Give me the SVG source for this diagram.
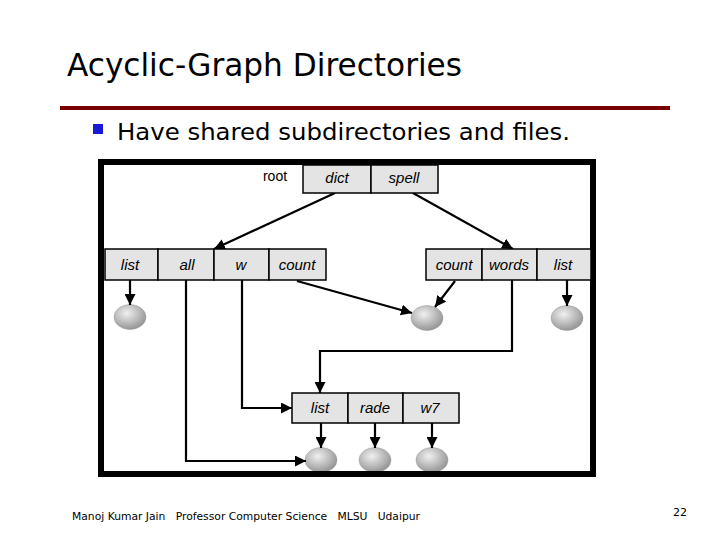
<svg xmlns="http://www.w3.org/2000/svg" width="720" height="540" viewBox="0 0 720 540">
<style>
.title{font-family:"DejaVu Sans",sans-serif;font-size:32px;fill:#000}
.bullet{font-family:"DejaVu Sans",sans-serif;font-size:23px;fill:#000}
.foot{font-family:"DejaVu Sans",sans-serif;font-size:11px;fill:#000;white-space:pre}
.box{fill:#e4e4e4;stroke:#000;stroke-width:1.5}
.lbl{font-family:"Liberation Sans",Arial,sans-serif;font-size:15px;font-style:italic;fill:#000;text-anchor:middle}
.plain{font-family:"Liberation Sans",Arial,sans-serif;font-size:14px;fill:#000;text-anchor:middle}
.edge{fill:none;stroke:#000;stroke-width:2.2}
.file{fill:url(#g);stroke:#999;stroke-width:0.5}
</style>
<defs>
<radialGradient id="g" cx="0.4" cy="0.35" r="0.7">
<stop offset="0" stop-color="#f0f0f0"/>
<stop offset="1" stop-color="#8f8f8f"/>
</radialGradient>
<marker id="ah" viewBox="0 0 10 10" refX="10" refY="5" markerWidth="5" markerHeight="5" orient="auto" markerUnits="strokeWidth">
<path d="M0,0 L10,5 L0,10 z" fill="#000"/>
</marker>
</defs>
<rect width="720" height="540" fill="#fff"/>
<text class="title" x="67" y="76" textLength="395" lengthAdjust="spacingAndGlyphs">Acyclic-Graph Directories</text>
<rect x="60" y="106" width="610" height="4" fill="#780000"/>
<rect x="93" y="124" width="10" height="10" fill="#1a1ad6"/>
<text class="bullet" x="117" y="140" textLength="453" lengthAdjust="spacingAndGlyphs">Have shared subdirectories and files.</text>

<rect x="101" y="162" width="492" height="312" fill="#fff" stroke="#000" stroke-width="6"/>

<g id="files">
<ellipse class="file" cx="130" cy="317" rx="16" ry="12.5"/>
<ellipse class="file" cx="427" cy="318" rx="16" ry="12.5"/>
<ellipse class="file" cx="567" cy="318" rx="16" ry="12.5"/>
<ellipse class="file" cx="321" cy="460" rx="16" ry="12.5"/>
<ellipse class="file" cx="375" cy="460" rx="16" ry="12.5"/>
<ellipse class="file" cx="432" cy="460" rx="16" ry="12.5"/>
</g>
<rect x="104" y="471" width="486" height="6" fill="#000"/>

<g id="connectors">
<path class="edge" marker-end="url(#ah)" d="M335,193 L214,249"/>
<path class="edge" marker-end="url(#ah)" d="M413,193 L513,249"/>
<path class="edge" marker-end="url(#ah)" d="M130,280 L130,305"/>
<path class="edge" marker-end="url(#ah)" d="M186,280 L186,461 L306,461"/>
<path class="edge" marker-end="url(#ah)" d="M242,280 L242,408 L292,408"/>
<path class="edge" marker-end="url(#ah)" d="M297,281 L412,313"/>
<path class="edge" marker-end="url(#ah)" d="M455,281 L435,307"/>
<path class="edge" marker-end="url(#ah)" d="M512,280 L512,351 L320,351 L320,393"/>
<path class="edge" marker-end="url(#ah)" d="M567,280 L567,306"/>
<path class="edge" marker-end="url(#ah)" d="M321,423 L321,448"/>
<path class="edge" marker-end="url(#ah)" d="M375,423 L375,448"/>
<path class="edge" marker-end="url(#ah)" d="M432,423 L432,448"/>
</g>

<g id="root">
<text class="plain" x="275" y="181">root</text>
<rect class="box" x="303" y="165" width="68" height="28"/>
<text class="lbl" x="337" y="183">dict</text>
<rect class="box" x="371" y="165" width="67" height="28"/>
<text class="lbl" x="404" y="183">spell</text>
</g>

<g id="dictdir">
<rect class="box" x="105" y="249" width="53" height="31"/>
<text class="lbl" x="130" y="270">list</text>
<rect class="box" x="158" y="249" width="56" height="31"/>
<text class="lbl" x="187" y="270">all</text>
<rect class="box" x="214" y="249" width="55" height="31"/>
<text class="lbl" x="241" y="270">w</text>
<rect class="box" x="269" y="249" width="57" height="31"/>
<text class="lbl" x="297" y="270">count</text>
</g>

<g id="spelldir">
<rect class="box" x="426" y="249" width="56" height="31"/>
<text class="lbl" x="454" y="270">count</text>
<rect class="box" x="482" y="249" width="55" height="31"/>
<text class="lbl" x="509" y="270">words</text>
<rect class="box" x="537" y="249" width="54" height="31"/>
<text class="lbl" x="563" y="270">list</text>
</g>

<g id="listdir">
<rect class="box" x="292" y="393" width="56" height="30"/>
<text class="lbl" x="320" y="413">list</text>
<rect class="box" x="348" y="393" width="55" height="30"/>
<text class="lbl" x="375" y="413">rade</text>
<rect class="box" x="403" y="393" width="56" height="30"/>
<text class="lbl" x="430" y="413">w7</text>
</g>

<text class="foot" x="72" y="520" xml:space="preserve" textLength="348" lengthAdjust="spacingAndGlyphs">Manoj Kumar Jain   Professor Computer Science   MLSU   Udaipur</text>
<text class="foot" x="673" y="516" font-size="13">22</text>
</svg>
